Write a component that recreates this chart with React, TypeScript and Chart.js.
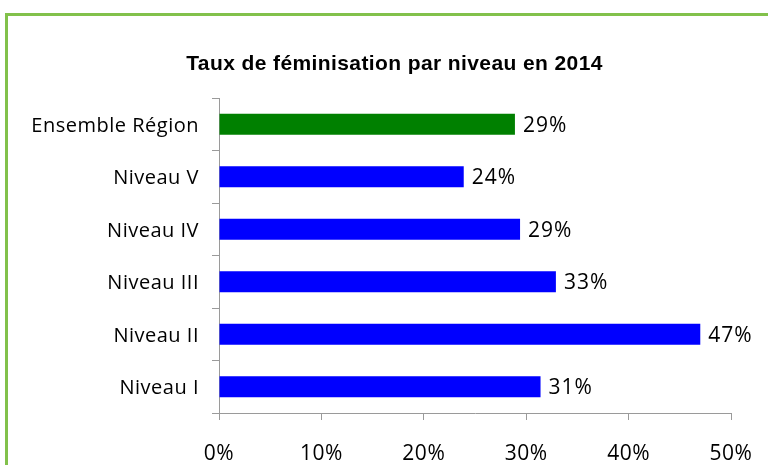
import React, { useEffect, useRef } from "react";
import { Chart, registerables } from "chart.js";

Chart.register(...registerables);

const categories = ["Ensemble Région", "Niveau V", "Niveau IV", "Niveau III", "Niveau II", "Niveau I"];
const values = [28.9, 23.9, 29.4, 32.9, 47.0, 31.4];
const barColors = ["#008000", "#0000FF", "#0000FF", "#0000FF", "#0000FF", "#0000FF"];
const titleText = "Taux de féminisation par niveau en 2014";
const xMax = 50;
const xStep = 10;

const labelFont = "'Open Sans', 'DejaVu Sans', sans-serif";

const customTitle = {
  id: "customTitle",
  beforeDraw(chart: any) {
    const ctx = chart.ctx;
    ctx.save();
    (ctx as any).letterSpacing = "0.4px";
    ctx.font = "bold 21px 'Liberation Sans', Arial, sans-serif";
    ctx.fillStyle = "#000";
    ctx.textAlign = "center";
    ctx.textBaseline = "alphabetic";
    ctx.fillText(titleText, 394.5, 70);
    ctx.restore();
    (ctx as any).letterSpacing = "0.5px";
  },
};

const valueLabels = {
  id: "valueLabels",
  afterDatasetsDraw(chart: any) {
    const ctx = chart.ctx;
    const meta = chart.getDatasetMeta(0);
    ctx.save();
    (ctx as any).letterSpacing = "1px";
    ctx.font = `21px ${labelFont}`;
    ctx.fillStyle = "#000";
    ctx.textAlign = "left";
    ctx.textBaseline = "middle";
    meta.data.forEach((bar: any, i: number) => {
      ctx.fillText(`${Math.round(values[i])}%`, bar.x + 8, bar.y + 1.5);
    });
    ctx.restore();
  },
};

export default function App() {
  const ref = useRef<HTMLCanvasElement>(null);
  useEffect(() => {
    if (!ref.current) return;
    const chart = new Chart(ref.current, {
      type: "bar",
      data: {
        labels: categories,
        datasets: [
          {
            data: values,
            backgroundColor: barColors,
            barPercentage: 0.4,
            categoryPercentage: 1,
          },
        ],
      },
      plugins: [customTitle, valueLabels],
      options: {
        indexAxis: "y",
        animation: false,
        responsive: false,
        layout: { padding: { left: 0, right: 37, top: 98, bottom: 0 } },
        plugins: {
          legend: { display: false },
          tooltip: { enabled: false },
          title: { display: false },
        },
        scales: {
          x: {
            min: 0,
            max: xMax,
            border: { display: true, color: "#9a9a9a", width: 1 },
            grid: { drawOnChartArea: false, drawTicks: true, tickLength: 7, color: "#9a9a9a" },
            ticks: {
              stepSize: xStep,
              color: "#000",
              padding: 21,
              font: { family: labelFont, size: 21 },
              callback: (v: any) => `${v}%`,
            },
            afterFit: (s: any) => {
              s.height = 52;
              s.paddingLeft = 0;
              s.paddingRight = 0;
            },
          },
          y: {
            border: { display: true, color: "#9a9a9a", width: 1 },
            grid: { drawOnChartArea: false, drawTicks: true, tickLength: 7, color: "#9a9a9a", offset: true },
            ticks: {
              color: "#000",
              padding: 13,
              labelOffset: 2,
              font: { family: labelFont, size: 20 },
            },
            afterFit: (s: any) => {
              s.width = 219;
              s.paddingTop = 0;
              s.paddingBottom = 0;
            },
          },
        },
      },
    });
    return () => chart.destroy();
  }, []);

  return (
    <div style={{ position: "absolute", left: 0, top: 0, width: 768, height: 465, background: "#fff", overflow: "hidden" }}>
      <div
        style={{
          position: "absolute",
          left: 5,
          top: 13,
          width: 800,
          height: 500,
          borderLeft: "3px solid #82C14B",
          borderTop: "3px solid #82C14B",
          boxSizing: "border-box",
        }}
      />
      <canvas ref={ref} width={768} height={465} style={{ position: "absolute", left: 0, top: 0, width: 768, height: 465 }} />
    </div>
  );
}
